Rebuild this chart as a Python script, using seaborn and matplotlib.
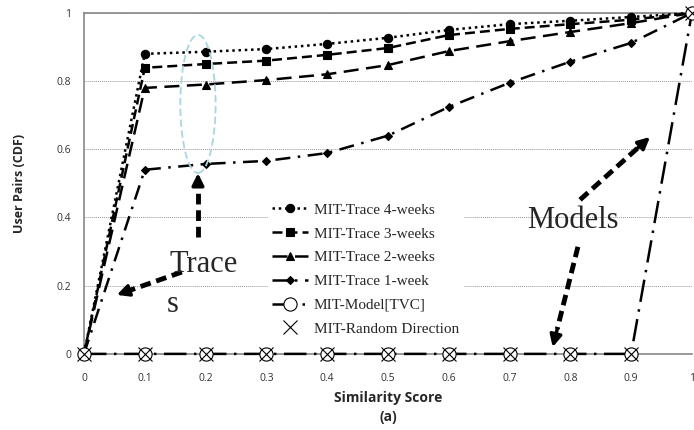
import matplotlib
matplotlib.use("Agg")
import matplotlib.pyplot as plt
import seaborn as sns
import pandas as pd
from matplotlib.patches import Ellipse

# Similarity score bins and CDF values per series
x_scores = [0.0, 0.1, 0.2, 0.3, 0.4, 0.5, 0.6, 0.7, 0.8, 0.9, 1.0]
trace_4w = [0.0, 0.880, 0.886, 0.894, 0.909, 0.927, 0.950, 0.967, 0.977, 0.988, 1.0]
trace_3w = [0.0, 0.839, 0.850, 0.860, 0.877, 0.897, 0.935, 0.953, 0.967, 0.980, 1.0]
trace_2w = [0.0, 0.780, 0.790, 0.803, 0.820, 0.847, 0.888, 0.917, 0.944, 0.970, 1.0]
trace_1w = [0.0, 0.540, 0.557, 0.566, 0.589, 0.640, 0.724, 0.795, 0.857, 0.912, 1.0]
model_tvc = [0.0, 0.0, 0.0, 0.0, 0.0, 0.0, 0.0, 0.0, 0.0, 0.0, 1.0]
random_dir = [0.0, 0.0, 0.0, 0.0, 0.0, 0.0, 0.0, 0.0, 0.0, 0.0, 1.0]

series_names = ["MIT-Trace 4-weeks", "MIT-Trace 3-weeks", "MIT-Trace 2-weeks",
                "MIT-Trace 1-week", "MIT-Model[TVC]", "MIT-Random Direction"]
x_ticks = [0, 0.1, 0.2, 0.3, 0.4, 0.5, 0.6, 0.7, 0.8, 0.9, 1]
x_tick_labels = ["0", "0.1", "0.2", "0.3", "0.4", "0.5", "0.6", "0.7", "0.8", "0.9", "1"]
y_ticks = [0, 0.2, 0.4, 0.6, 0.8, 1]
y_tick_labels = ["0", "0.2", "0.4", "0.6", "0.8", "1"]

sns.set_style("white")
serif = ["Liberation Serif", "DejaVu Serif"]
sans = ["Open Sans", "DejaVu Sans"]

fig, ax = plt.subplots(figsize=(6.94, 4.30), dpi=100)
fig.subplots_adjust(left=0.121, right=0.997, top=0.970, bottom=0.177)

styles = [
    dict(marker="o", linestyle=(0, (1, 1.5)), markersize=6),
    dict(marker="s", linestyle=(0, (4, 2)), markersize=6),
    dict(marker="^", linestyle=(0, (6, 3)), markersize=6),
    dict(marker="D", linestyle=(0, (6, 3, 1, 3)), markersize=4.5),
    dict(marker="o", linestyle=(0, (9, 3, 1, 3)), markersize=9.5,
         markerfacecolor="white", markeredgewidth=0.8),
    dict(marker="x", linestyle="none", markersize=9.5, markeredgewidth=0.8),
]
values = [trace_4w, trace_3w, trace_2w, trace_1w, model_tvc, random_dir]

for name, vals, st in zip(series_names, values, styles):
    df = pd.DataFrame({"score": x_scores, "cdf": vals})
    st.setdefault("markeredgewidth", 0.8)
    sns.lineplot(data=df, x="score", y="cdf", ax=ax, color="black", lw=1.8,
                 label=name, clip_on=False, zorder=3, markeredgecolor="black",
                 **st)

ax.set_xlim(0, 1)
ax.set_ylim(0, 1)
ax.set_xticks(x_ticks)
ax.set_xticklabels(x_tick_labels)
ax.set_yticks(y_ticks)
ax.set_yticklabels(y_tick_labels)
ax.tick_params(axis="both", labelsize=7.5, labelcolor="#333333", colors="#888888",
               length=3, width=0.8, direction="out")
ax.tick_params(axis="x", length=0, pad=14)
ax.tick_params(axis="y", pad=6)
for lab in ax.get_xticklabels() + ax.get_yticklabels():
    lab.set_family(sans)

ax.yaxis.grid(True, color="#999999", linestyle=(0, (1, 1)), lw=0.7)
ax.xaxis.grid(False)
for side in ["left", "top", "bottom"]:
    ax.spines[side].set_color("#888888")
    ax.spines[side].set_linewidth(1.2)
ax.spines["right"].set_visible(False)

ax.set_xlabel("Similarity Score\n(a)", fontsize=10, fontweight="bold",
              family=sans, linespacing=1.4, labelpad=5)
ax.set_ylabel("User Pairs (CDF)", fontsize=9, fontweight="bold", family=sans,
              labelpad=22)

leg = ax.legend(loc="upper left", bbox_to_anchor=(0.29, 0.478), frameon=True,
                facecolor="white", edgecolor="none", framealpha=1,
                prop={"family": serif, "size": 11}, handlelength=2.3,
                labelspacing=0.66, borderpad=0.3, handletextpad=0.4)
leg.set_zorder(2)

# Highlight around the 0.2 column
ax.add_patch(Ellipse((0.1875, 0.733), 0.058, 0.405, fill=False,
                     edgecolor="#a9d6de", linestyle=(0, (4, 2)), lw=1.3, zorder=4))


def dashed_arrow(tail, head, frac=0.82):
    hx = tail[0] + (head[0] - tail[0]) * frac
    hy = tail[1] + (head[1] - tail[1]) * frac
    ax.plot([tail[0], hx], [tail[1], hy], color="black", lw=3.5,
            linestyle=(0, (2.2, 1.2)), zorder=5, solid_capstyle="butt")
    ax.annotate("", xy=head, xytext=(hx, hy),
                arrowprops=dict(arrowstyle="-|>,head_length=0.7,head_width=0.35",
                                color="black", lw=2.5, shrinkA=0, shrinkB=0),
                zorder=5)


dashed_arrow((0.1875, 0.343), (0.1875, 0.53))
dashed_arrow((0.161, 0.240), (0.054, 0.173))
dashed_arrow((0.816, 0.452), (0.931, 0.636))
dashed_arrow((0.8125, 0.314), (0.771, 0.02))

ax.text(0.197, 0.262, "Trace", family=serif, fontsize=22, ha="center",
        va="center", zorder=6)
ax.text(0.146, 0.145, "s", family=serif, fontsize=22, ha="center",
        va="center", zorder=6)
ax.text(0.805, 0.39, "Models", family=serif, fontsize=22, ha="center",
        va="center", zorder=6)

fig.savefig("out.png", dpi=100)
